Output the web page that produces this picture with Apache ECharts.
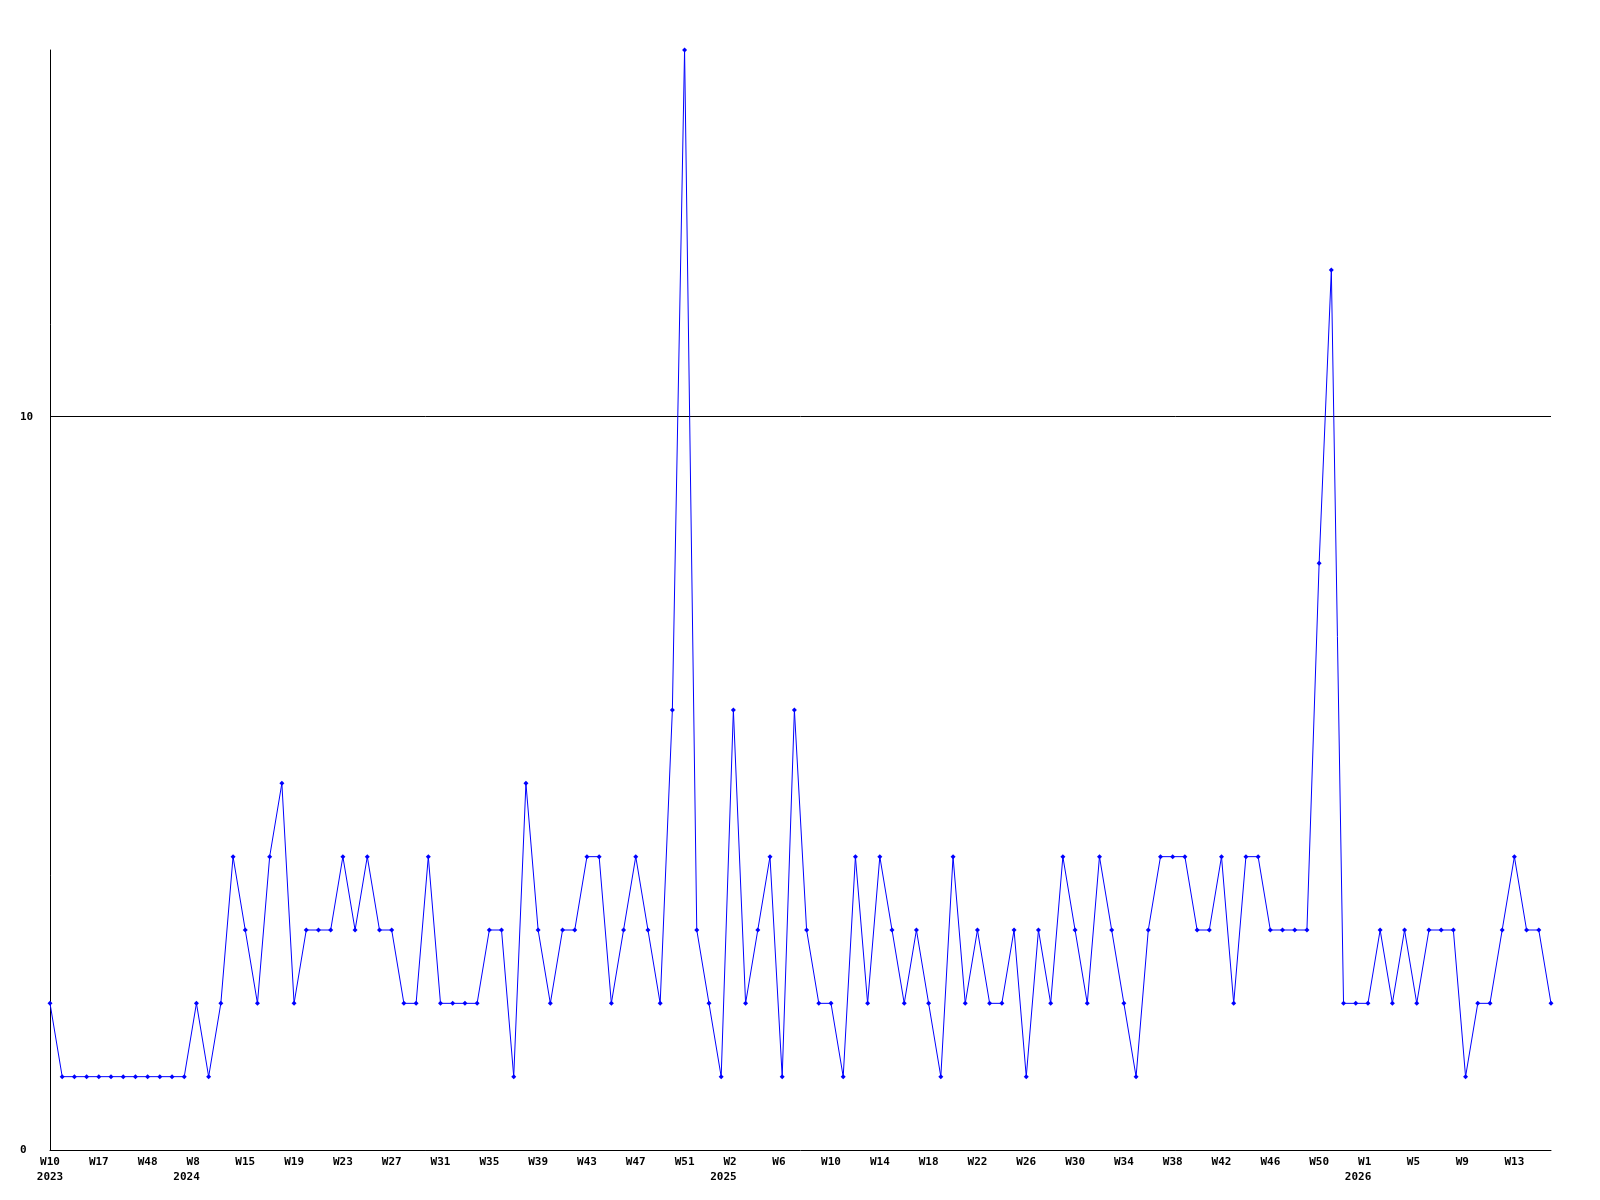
<!DOCTYPE html>
<html>
<head>
<meta charset="utf-8">
<script src="https://cdn.jsdelivr.net/npm/echarts@6/dist/echarts.min.js"></script>
<style>
html,body{margin:0;padding:0;background:#fff;}
#chart{width:1600px;height:1200px;}
</style>
</head>
<body>
<div id="chart"></div>
<script>
// Category labels (week, with year on first shown label of each year)
const weeks = [
  'W10 2023','W12','W13','W15','W17','W22','W30','W41','W48','W50','W51','W52','W8 2024','W10','W12','W14',
  'W15','W16','W17','W18','W19','W20','W21','W22','W23','W24','W25','W26','W27','W28','W29','W30','W31','W32','W33','W34','W35','W36','W37','W38','W39','W40','W41','W42','W43','W44','W45','W46','W47','W48','W49','W50','W51','W52',
  'W53','W1','W2 2025',
  'W3','W4','W5','W6','W7','W8','W9','W10','W11','W12','W13','W14','W15','W16','W17','W18','W19','W20','W21','W22','W23','W24','W25','W26','W27','W28','W29','W30','W31','W32','W33','W34','W35','W36','W37','W38','W39','W40','W41','W42','W43','W44','W45','W46','W47','W48','W49','W50','W51','W52','W53',
  'W1 2026',
  'W2','W3','W4','W5','W6','W7','W8','W9','W10','W11','W12','W13','W14','W15','W16'
];

// Series values
const counts = [
  2,1,1,1,1,1,1,1,1,1,1,1,
  2,1,2,4,3,2,4,5,2,3,3,3,
  4,3,4,3,3,2,2,4,2,2,2,2,
  3,3,1,5,3,2,3,3,4,4,2,3,
  4,3,2,6,15,3,2,1,6,2,3,4,
  1,6,3,2,2,1,4,2,4,3,2,3,
  2,1,4,2,3,2,2,3,1,3,2,4,
  3,2,4,3,2,1,3,4,4,4,3,3,
  4,2,4,4,3,3,3,3,8,12,2,2,
  2,3,2,3,2,3,3,3,1,2,2,3,
  4,3,3,2
];

// Y axis ticks
const yMin = 0;
const yMax = 15;
const yInterval = 10;

const chart = echarts.init(document.getElementById('chart'), null, {renderer:'canvas'});
const fontFamily = '"DejaVu Sans Mono", "Liberation Mono", monospace';

function fmtLabel(v, idx) {
  const parts = v.split(' ');
  const wk = parts[0].padEnd(3, ' ');
  if (parts.length > 1) {
    return wk + '\n' + parts[1] + (idx > 0 ? '   ' : '');
  }
  return wk;
}

chart.setOption({
  animation: false,
  backgroundColor: '#ffffff',
  grid: {left: 50, right: 49, top: 50, bottom: 50, containLabel: false},
  xAxis: {
    type: 'category',
    data: weeks,
    boundaryGap: false,
    axisLine: {show: true, lineStyle: {color: '#000', width: 1}},
    axisTick: {show: false},
    splitLine: {show: false},
    axisLabel: {
      interval: 3,
      margin: 5,
      color: '#000',
      fontFamily: fontFamily,
      fontWeight: 'bold',
      fontSize: 11,
      lineHeight: 15,
      formatter: fmtLabel
    }
  },
  yAxis: {
    type: 'value',
    min: yMin,
    max: yMax,
    interval: yInterval,
    axisLine: {show: true, lineStyle: {color: '#000', width: 1}},
    axisTick: {show: false},
    splitLine: {show: true, showMinLine: false, showMaxLine: false, lineStyle: {color: '#000', width: 1}},
    axisLabel: {
      showMaxLabel: false,
      align: 'left',
      margin: 30,
      color: '#000',
      fontFamily: fontFamily,
      fontWeight: 'bold',
      fontSize: 11
    }
  },
  series: [{
    type: 'line',
    data: counts,
    symbol: 'diamond',
    symbolSize: 5,
    showAllSymbol: true,
    lineStyle: {color: '#0000ff', width: 1},
    itemStyle: {color: '#0000ff'},
    z: 3
  }]
});
</script>
</body>
</html>
